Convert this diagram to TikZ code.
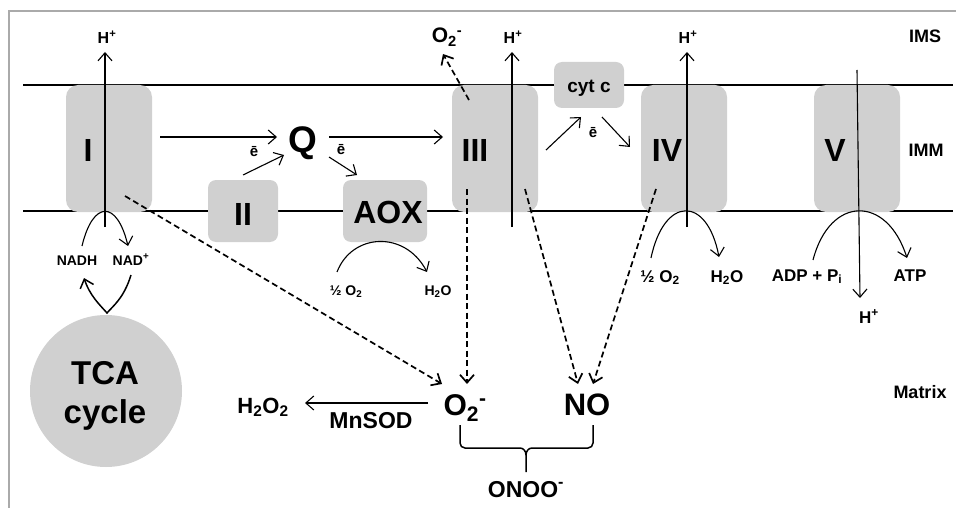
\documentclass[tikz,border=0pt]{standalone}
\usepackage{fontspec}
\setmainfont{Liberation Sans}
\usetikzlibrary{arrows.meta}
\definecolor{boxgray}{HTML}{D0D0D0}
\definecolor{framegray}{HTML}{AAAAAA}
\newcommand\fsz[1]{\fontsize{#1}{#1}\selectfont\bfseries}
\begin{document}
\begin{tikzpicture}[x=1pt,y=-1pt,
  cplx/.style={fill=boxgray, draw=none, rounded corners=12pt, inner sep=0pt, outer sep=0pt},
  smallbox/.style={cplx, rounded corners=8pt},
  lbl/.style={inner sep=0pt, outer sep=0pt, anchor=base},
  arr/.style={-{Straight Barb[length=8pt,width=14pt]}, line width=1.1pt},
  dsh/.style={arr, dash pattern=on 6pt off 3.5pt, line width=1.7pt},
  memb/.style={line width=2.2pt},
  plain/.style={line width=1.1pt}]
\useasboundingbox (0,0) rectangle (956,508);
% frame
\draw[framegray, line width=1.5pt] (956,11) -- (9,11) -- (9,508);
% membranes
\coordinate (mtl) at (23,85); \coordinate (mtr) at (953,85);
\coordinate (mbl) at (23,211); \coordinate (mbr) at (953,211);
\draw[memb] (mtl) -- (mtr);
\draw[memb] (mbl) -- (mbr);
% complexes
\node[cplx, minimum width=86pt, minimum height=127pt] (c1) at (109,148.5) {};
\node[smallbox, minimum width=70pt, minimum height=62pt] (c2) at (243,211) {};
\node[smallbox, minimum width=84pt, minimum height=62pt] (aox) at (385,211) {};
\node[cplx, minimum width=86pt, minimum height=127pt] (c3) at (495,148.5) {};
\node[smallbox, minimum width=70pt, minimum height=46pt] (cytc) at (589,85) {};
\node[cplx, minimum width=86pt, minimum height=127pt] (c4) at (684,148.5) {};
\node[cplx, minimum width=86pt, minimum height=127pt] (c5) at (857,148.5) {};
\node[circle, fill=boxgray, minimum size=152pt, inner sep=0pt] (tca) at (106,391) {};
% complex labels
\node[lbl, font=\fsz{32}] (l1) at (88,162) {I};
\node[lbl, font=\fsz{32}] (l2) at (243,225) {II};
\node[lbl, font=\fsz{32}] (laox) at (388,223) {AOX};
\node[lbl, font=\fsz{32}] (l3) at (475,162) {III};
\node[lbl, font=\fsz{19}] (lcyt) at (589,93) {cyt c};
\node[lbl, font=\fsz{32}] (l4) at (667,162) {IV};
\node[lbl, font=\fsz{32}] (l5) at (835,162) {V};
\node[lbl, font=\fsz{37}] (q) at (303,153) {Q};
\node[lbl, font=\fsz{33}] (tca1) at (105,384) {TCA};
\node[lbl, font=\fsz{33}] (tca2) at (105,423) {cycle};
% region labels
\node[lbl, font=\fsz{18}] (ims) at (925,43) {IMS};
\node[lbl, font=\fsz{18}] (imm) at (926,157) {IMM};
\node[lbl, font=\fsz{18}] (matrix) at (920,398) {Matrix};
% H+ labels
\node[lbl, font=\fsz{16}] (h1) at (107,44) {H\textsuperscript{+}};
\node[lbl, font=\fsz{16}] (h3) at (513,44) {H\textsuperscript{+}};
\node[lbl, font=\fsz{16}] (h4) at (688,44) {H\textsuperscript{+}};
\node[lbl, font=\fsz{17}] (h5) at (869,323) {H\textsuperscript{+}};
\node[lbl, font=\fsz{21}] (o2top) at (447,43) {O\textsubscript{2}\textsuperscript{-}};
% proton arrows
\coordinate (p1a) at (105,227); \coordinate (p1b) at (105,52);
\coordinate (p3a) at (512,227); \coordinate (p3b) at (512,52);
\coordinate (p4a) at (687,227); \coordinate (p4b) at (687,52);
\coordinate (p5a) at (857,70); \coordinate (p5b) at (860,298);
\draw[arr] (p1a) -- (p1b);
\draw[arr] (p3a) -- (p3b);
\draw[arr] (p4a) -- (p4b);
\draw[arr] (p5a) -- (p5b);
% electron arrows
\coordinate (e1a) at (160,137); \coordinate (e1b) at (277,137);
\coordinate (e2a) at (243,175); \coordinate (e2b) at (284,155);
\coordinate (e3a) at (329,157); \coordinate (e3b) at (357,175);
\coordinate (e4a) at (329,137); \coordinate (e4b) at (443,137);
\coordinate (e5a) at (546,150); \coordinate (e5b) at (581,117);
\coordinate (e6a) at (602,117); \coordinate (e6b) at (630,147);
\draw[arr] (e1a) -- (e1b);
\draw[arr] (e2a) -- (e2b);
\draw[arr] (e3a) -- (e3b);
\draw[arr] (e4a) -- (e4b);
\draw[arr] (e5a) -- (e5b);
\draw[arr] (e6a) -- (e6b);
\node[lbl, font=\fsz{15}] (ebar1) at (254,157) {ē};
\node[lbl, font=\fsz{15}] (ebar2) at (341,155) {ē};
\node[lbl, font=\fsz{15}] (ebar3) at (593,138) {ē};
% superoxide from III to IMS
\coordinate (s3a) at (469,100); \coordinate (s3b) at (443,54);
\draw[dsh] (s3a) -- (s3b);
% arcs at the matrix side
\draw[arr] (82,246) .. controls (93,200) and (117,200) .. (128,246);
\node[lbl, font=\fsz{14}] (nadh) at (77,265) {NADH};
\node[lbl, font=\fsz{14}] (nad) at (131,265) {NAD\textsuperscript{+}};
\draw[arr, line width=1.5pt] (131,275) .. controls (124,298) and (113,306) .. (107,313)
      .. controls (100,305) and (90,296) .. (84,278);
\draw[arr] (337,272) .. controls (352,233) and (405,230) .. (427,272);
\node[lbl, font=\fsz{14}] (ho2a) at (346,295) {½ O\textsubscript{2}};
\node[lbl, font=\fsz{14}] (h2oa) at (438,295) {H\textsubscript{2}O};
\draw[arr] (651,258) .. controls (664,196) and (707,195) .. (719,257);
\node[lbl, font=\fsz{17}] (ho2b) at (660,282) {½ O\textsubscript{2}};
\node[lbl, font=\fsz{17}] (h2ob) at (727,282) {H\textsubscript{2}O};
\draw[arr] (813,260) .. controls (830,195) and (887,195) .. (907,258);
\node[lbl, font=\fsz{17}] (adp) at (807,281) {ADP + P\textsubscript{i}};
\node[lbl, font=\fsz{17}] (atp) at (910,281) {ATP};
% ROS / RNS
\node[lbl, font=\fsz{30}] (o2b) at (465,415) {O\textsubscript{2}\textsuperscript{-}};
\node[lbl, font=\fsz{31}] (no) at (587,415) {NO};
\node[lbl, font=\fsz{23}] (onoo) at (526,497) {ONOO\textsuperscript{-}};
\node[lbl, font=\fsz{22}] (h2o2) at (263,413) {H\textsubscript{2}O\textsubscript{2}};
\node[lbl, font=\fsz{23}] (mnsod) at (371,428) {MnSOD};
\coordinate (d1a) at (125,196); \coordinate (d1b) at (442,384);
\coordinate (d2a) at (467,189); \coordinate (d2b) at (467,384);
\coordinate (d3a) at (525,189); \coordinate (d3b) at (578,384);
\coordinate (d4a) at (656,189); \coordinate (d4b) at (593,384);
\draw[dsh] (d1a) -- (d1b);
\draw[dsh] (d2a) -- (d2b);
\draw[dsh] (d3a) -- (d3b);
\draw[dsh] (d4a) -- (d4b);
\coordinate (sa) at (428,403); \coordinate (sb) at (305,403);
\draw[arr] (sa) -- (sb);
% brace
\draw[line width=1.5pt] (460,425) -- (460,443) to[out=-90,in=180] (465,448) -- (520,448)
      to[out=0,in=90] (526,455) -- (526,472);
\draw[line width=1.5pt] (526,455) to[out=90,in=180] (532,448) -- (588,448)
      to[out=0,in=-90] (593,443) -- (593,425);
\end{tikzpicture}
\end{document}
